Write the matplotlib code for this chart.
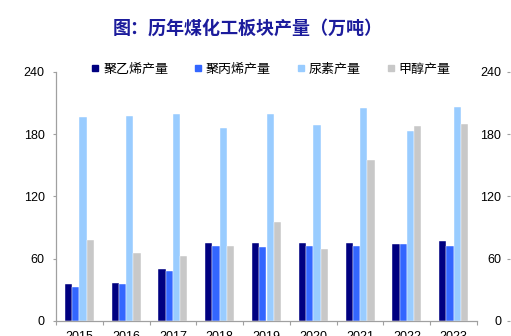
import matplotlib
matplotlib.use("Agg")
import matplotlib.pyplot as plt
from matplotlib.lines import Line2D
import numpy as np

plt.rcParams['font.family'] = ['Liberation Sans', 'Noto Sans CJK SC', 'DejaVu Sans']

years = ['2015', '2016', '2017', '2018', '2019', '2020', '2021', '2022', '2023']
pe = [35, 36, 50, 74.5, 75, 74.5, 74.5, 74, 77]
pp = [33, 35, 48, 72, 71, 72, 72.5, 74, 72]
urea = [196.5, 197.5, 199.5, 186, 199.5, 189, 205, 183.5, 206.5]
methanol = [78, 65, 62.5, 72, 95, 69, 155, 188, 190]
series_names = ['聚乙烯产量', '聚丙烯产量', '尿素产量', '甲醇产量']
colors = ['#000080', '#3366FF', '#99CCFF', '#C8C8C8']
yticks = [0, 60, 120, 180, 240]

W, H = 511, 336
fig = plt.figure(figsize=(W / 100, H / 100), dpi=100)
ax = fig.add_axes([56 / W, (H - 320.7) / H, (477 - 56) / W, (320.7 - 72) / H])

x = np.arange(len(years))
bw = 0.155
data = [pe, pp, urea, methanol]
for i, (vals, c) in enumerate(zip(data, colors)):
    ax.bar(x + (i - 1.5) * bw, vals, width=bw, color=c, edgecolor='white', linewidth=0.3, zorder=2)

ax.set_xlim(-0.5, len(years) - 0.5)
ax.set_ylim(0, 240)
ax.set_yticks(yticks)
ax.set_yticklabels([str(t) for t in yticks], fontsize=9)
ax.set_xticks(x)
ax.set_xticklabels(years, fontsize=9)
ax.set_xticks(np.arange(-0.5, len(years), 1), minor=True)
ax.tick_params(axis='x', which='major', length=0, pad=7.5)
ax.tick_params(axis='x', which='minor', length=3, color='#A0A0A0', width=0.8)
ax.tick_params(axis='y', length=2.2, color='#A0A0A0', width=0.8, pad=6)
for s in ['top', 'right']:
    ax.spines[s].set_visible(False)
for s in ['left', 'bottom']:
    ax.spines[s].set_color('#A0A0A0')
    ax.spines[s].set_linewidth(0.9)

# secondary axis labels on the right
ax2 = fig.add_axes([507 / W, (H - 320.7) / H, 4 / W, (320.7 - 72) / H])
ax2.set_ylim(0, 240)
ax2.set_yticks(yticks)
ax2.set_yticklabels([str(t) for t in yticks], fontsize=9)
ax2.tick_params(axis='y', direction='in', length=2.2, color='#A0A0A0', width=0.8, pad=4.3)
ax2.set_xticks([])
for s in ax2.spines.values():
    s.set_visible(False)
ax2.patch.set_visible(False)

handles = [Line2D([0], [0], marker='s', linestyle='none', markersize=4.5,
                  markerfacecolor=c, markeredgecolor=c) for c in colors]
fig.legend(handles, series_names, loc='center', bbox_to_anchor=(271 / W, (H - 69) / H),
           ncol=4, frameon=False, handlelength=0.6, handletextpad=0.3,
           columnspacing=2.0, prop={'family': ['Noto Sans CJK SC'], 'size': 9.4})

fig.text(248 / W, (H - 28) / H, '图：历年煤化工板块产量（万吨）', ha='center', va='center',
         fontsize=13, fontweight='bold', color='#1C1C9C', family=['Noto Sans CJK SC'])

fig.savefig('out.png', dpi=100)
